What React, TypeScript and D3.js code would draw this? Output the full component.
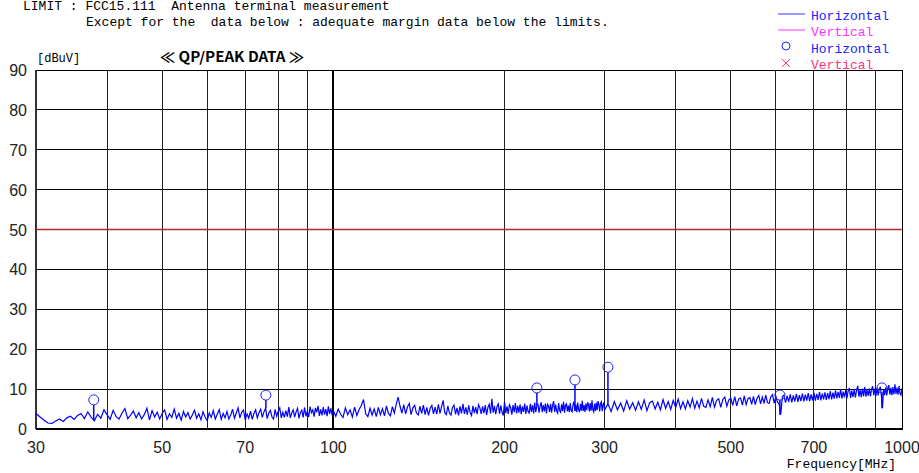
import React from 'react'
import * as d3 from 'd3'

// sweep 1: 30 - 100 MHz, 0.5 MHz step
const traceLow = [
  3.9, 3.0, 2.2, 1.5, 1.4, 2.0, 2.5, 1.9, 2.8, 3.2,
  2.4, 3.4, 3.9, 2.6, 4.3, 3.0, 2.1, 3.7, 2.7, 4.8,
  3.6, 2.4, 4.7, 3.1, 2.5, 4.0, 5.1, 2.6, 3.5, 4.5,
  2.8, 4.1, 2.5, 3.6, 5.2, 2.3, 4.6, 3.0, 4.2, 2.5,
  3.9, 4.8, 2.4, 3.8, 2.9, 5.0, 2.7, 3.9, 2.2, 4.4,
  3.0, 4.1, 2.5, 3.5, 4.7, 2.7, 3.8, 2.3, 4.3, 3.0,
  2.1, 4.0, 2.9, 4.6, 2.5, 3.7, 4.9, 2.4, 3.9, 2.8,
  4.4, 2.5, 3.5, 5.0, 2.7, 4.0, 5.3, 2.8, 4.2, 4.8,
  2.3, 3.8, 2.7, 4.5, 2.4, 3.9, 4.8, 2.8, 4.1, 5.0,
  2.9, 4.3, 5.2, 2.6, 4.0, 4.7, 3.0, 2.5, 4.9, 3.2,
  4.4, 5.3, 2.8, 4.2, 2.9, 4.6, 3.1, 5.5, 2.8, 4.0,
  4.8, 3.0, 4.3, 5.2, 2.7, 4.1, 4.7, 2.9, 5.4, 3.2,
  4.5, 3.0, 5.6, 4.1, 4.8, 3.1, 5.3, 4.2, 5.8, 3.3,
  4.9, 3.4, 5.5, 3.6, 5.0, 3.2, 5.7, 3.8, 5.2, 3.5,
  4.6,
]

// sweep 2: 101 - 300 MHz, 1 MHz step
const traceMid = [
  3.2, 5.0, 3.7, 2.9, 5.3, 3.6, 4.8, 3.0, 5.5, 3.4,
  4.9, 5.9, 7.4, 3.8, 3.1, 5.2, 3.5, 5.0, 3.1, 5.4,
  3.6, 5.1, 3.3, 5.8, 3.9, 3.3, 5.6, 4.0, 6.2, 8.0,
  5.7, 4.0, 6.1, 3.8, 5.5, 6.4, 3.6, 5.3, 5.9, 4.0,
  3.5, 5.7, 3.9, 6.0, 3.6, 5.4, 3.4, 5.2, 5.9, 3.8,
  5.5, 3.7, 6.2, 3.9, 5.6, 7.2, 4.1, 3.6, 5.8, 4.0,
  3.5, 5.4, 6.0, 3.7, 5.3, 3.4, 5.7, 3.9, 6.3, 3.8,
  5.4, 3.6, 5.9, 4.1, 3.4, 5.8, 4.0, 5.5, 3.7, 6.1,
  5.3, 3.8, 5.7, 4.0, 6.0, 3.5, 5.4, 6.2, 3.9, 7.6,
  4.1, 5.8, 3.7, 5.6, 6.3, 3.8, 5.9, 4.2, 3.4, 6.8,
  4.0, 5.7, 3.8, 6.1, 5.4, 3.6, 6.0, 4.2, 6.5, 3.9,
  5.8, 4.1, 6.2, 3.7, 5.7, 4.3, 6.4, 3.8, 5.9, 4.4,
  4.0, 6.3, 4.3, 6.0, 3.9, 6.6, 4.2, 5.9, 6.2, 4.1,
  5.7, 6.7, 4.2, 6.0, 4.4, 6.4, 3.9, 6.2, 5.8, 4.3,
  6.3, 4.1, 5.9, 7.0, 4.3, 6.1, 4.5, 4.0, 6.5, 4.6,
  4.2, 6.2, 4.5, 6.8, 4.1, 6.0, 6.3, 4.4, 5.9, 4.2,
  6.5, 4.6, 4.3, 6.2, 6.9, 4.5, 6.1, 4.2, 6.6, 4.7,
  4.4, 6.3, 4.6, 7.1, 4.5, 6.0, 4.3, 6.4, 4.7, 6.7,
  6.1, 4.4, 6.5, 4.6, 7.2, 4.8, 4.3, 6.3, 4.5, 6.6,
  4.7, 7.0, 6.2, 4.4, 6.4, 6.8, 4.5, 6.1, 6.5, 4.8,
]

// sweep 3: 304 - 1000 MHz, 4 MHz step
const traceHigh = [
  6.3, 4.4, 6.9, 4.8, 6.5, 4.5, 7.1, 5.0, 6.6, 4.7,
  6.8, 4.9, 7.3, 4.6, 6.6, 7.0, 5.0, 6.7, 4.8, 7.4,
  5.2, 6.9, 4.9, 7.2, 5.4, 7.5, 5.1, 6.8, 5.0, 7.1,
  5.5, 7.6, 5.2, 7.0, 5.3, 7.7, 5.7, 5.4, 7.3, 5.6,
  7.9, 5.5, 7.2, 7.6, 5.4, 7.4, 8.0, 5.7, 7.3, 7.7,
  5.9, 8.1, 5.8, 7.5, 7.8, 6.0, 8.3, 6.1, 7.6, 7.9,
  6.2, 8.2, 6.1, 7.7, 8.4, 6.3, 8.0, 6.4, 8.5, 6.6,
  6.4, 8.1, 8.6, 6.5, 8.2, 6.7, 6.3, 3.6, 8.1, 8.5,
  6.6, 8.3, 6.8, 8.7, 6.7, 8.4, 6.9, 8.8, 6.8, 8.5,
  7.0, 8.9, 6.9, 8.6, 7.1, 9.0, 7.0, 8.7, 7.2, 9.1,
  7.1, 8.8, 7.3, 9.3, 7.2, 8.9, 7.4, 9.2, 7.3, 9.0,
  7.5, 9.5, 7.4, 9.1, 7.6, 9.7, 7.7, 9.3, 7.8, 10.0,
  7.6, 9.4, 7.9, 9.8, 7.7, 9.5, 10.3, 7.8, 9.6, 8.0,
  9.9, 7.9, 9.7, 10.8, 8.1, 9.8, 8.0, 10.1, 8.2, 10.5,
  8.1, 9.9, 8.3, 10.2, 8.2, 10.0, 10.7, 8.4, 10.1, 8.3,
  10.3, 8.4, 9.9, 10.6, 8.3, 5.2, 10.0, 8.5, 10.4, 8.4,
  10.2, 11.0, 8.6, 10.3, 8.5, 10.5, 8.7, 11.2, 8.8, 10.4,
  8.6, 10.8, 8.9, 8.5, 10.2,
]

const sweeps = [
  { start: 30, step: 0.5, levels: traceLow },
  { start: 101, step: 1, levels: traceMid },
  { start: 304, step: 4, levels: traceHigh },
]

// QP markers (Horizontal)
const markerFreqs = [37.9, 76.1, 228, 266, 304, 610, 922]
const markerLevels = [7.3, 8.5, 10.3, 12.3, 15.5, 8.5, 10.3]

const limitLevel = 50
const yTicks = [0, 10, 20, 30, 40, 50, 60, 70, 80, 90]
const xGrid = [40, 50, 60, 70, 80, 90, 100, 200, 300, 400, 500, 600, 700, 800, 900]
const xLabels = [30, 50, 70, 100, 200, 300, 500, 700, 1000]

const W = 919
const H = 473
const plot = { left: 36, right: 902, top: 70, bottom: 429 }

const mono = '"Liberation Mono", "DejaVu Sans Mono", monospace'
const sans = '"Liberation Sans", Arial, sans-serif'

export default function App() {
  const x = d3.scaleLog().domain([30, 1000]).range([plot.left, plot.right])
  const y = d3.scaleLinear().domain([0, 90]).range([plot.bottom, plot.top])

  const points: [number, number][] = []
  sweeps.forEach(s => {
    s.levels.forEach((v, i) => points.push([s.start + i * s.step, v]))
  })

  const line = d3
    .line<[number, number]>()
    .x(d => x(d[0]))
    .y(d => y(d[1]))

  const bisect = d3.bisector((d: [number, number]) => d[0]).center
  const r = 5

  return (
    <svg
      width={W}
      height={H}
      style={{ position: 'absolute', left: 0, top: 0, background: '#fff' }}
    >
      {/* header */}
      <text x={23} y={10} fontFamily={mono} fontSize={13} fill="#000" xmlSpace="preserve">
        {'LIMIT : FCC15.111  Antenna terminal measurement'}
      </text>
      <text x={86} y={26} fontFamily={mono} fontSize={13} fill="#000" xmlSpace="preserve">
        {'Except for the  data below : adequate margin data below the limits.'}
      </text>
      <text x={37} y={62} fontFamily={mono} fontSize={12} fill="#000">
        [dBuV]
      </text>
      <text
        x={160}
        y={62}
        fontFamily={'"Noto Sans CJK JP", "DejaVu Sans", sans-serif'}
        fontWeight="bold"
        fontSize={14}
        textLength={144}
        lengthAdjust="spacingAndGlyphs"
        fill="#000"
      >
        {'≪ QP/PEAK DATA ≫'}
      </text>

      {/* legend */}
      <g fontFamily={mono} fontSize={13}>
        <line x1={778} x2={805} y1={14} y2={14} stroke="#3333ff" strokeWidth={1} />
        <text x={811} y={20} fill="#2222ff">Horizontal</text>
        <line x1={778} x2={805} y1={30} y2={30} stroke="#ff33ff" strokeWidth={1} />
        <text x={811} y={36} fill="#ff33ff">Vertical</text>
        <circle cx={786} cy={46} r={4} fill="none" stroke="#2222ff" strokeWidth={1} />
        <text x={811} y={53} fill="#2222ff">Horizontal</text>
        <path d="M782,59 L790,67 M790,59 L782,67" stroke="#ff3377" strokeWidth={1} />
        <text x={811} y={69} fill="#ff3377">Vertical</text>
      </g>

      {/* grid */}
      <rect
        x={plot.left}
        y={plot.top}
        width={plot.right - plot.left}
        height={plot.bottom - plot.top}
        fill="#fff"
      />
      <g shapeRendering="crispEdges">
        {yTicks.slice(1, -1).map(t => (
          <line key={'h' + t} x1={plot.left} x2={plot.right} y1={y(t)} y2={y(t)} stroke="#000" />
        ))}
        {xGrid.map(f => (
          <line
            key={'v' + f}
            x1={x(f)}
            x2={x(f)}
            y1={plot.top}
            y2={plot.bottom}
            stroke={f === 100 ? '#000' : '#222'}
            strokeWidth={f === 100 ? 2 : 1}
          />
        ))}
        <rect
          x={plot.left}
          y={plot.top}
          width={plot.right - plot.left}
          height={plot.bottom - plot.top}
          fill="none"
          stroke="#000"
        />
        <line x1={plot.left} x2={plot.left} y1={plot.top} y2={plot.bottom} stroke="#333" strokeWidth={2} />
        <line x1={plot.left} x2={plot.right} y1={plot.bottom} y2={plot.bottom} stroke="#000" strokeWidth={2} />
      </g>

      {/* limit */}
      <line
        x1={plot.left}
        x2={plot.right}
        y1={y(limitLevel)}
        y2={y(limitLevel)}
        stroke="#b8282c"
        strokeWidth={1.5}
      />

      {/* trace */}
      <path d={line(points) || ''} fill="none" stroke="#0000ff" strokeWidth={1.2} />

      {/* markers */}
      {markerFreqs.map((f, i) => {
        const base = points[bisect(points, f)][1]
        const cy = y(markerLevels[i])
        return (
          <g key={'m' + i}>
            <line
              x1={x(f)}
              x2={x(f)}
              y1={cy + r}
              y2={Math.max(y(base), cy + r)}
              stroke="#0000ff"
              strokeWidth={1.5}
            />
            <circle cx={x(f)} cy={cy} r={r} fill="none" stroke="#2222ff" strokeWidth={1} />
          </g>
        )
      })}

      {/* axis labels */}
      <g fontFamily={sans} fontSize={16} fill="#222">
        {yTicks.map(t => (
          <text key={'yl' + t} x={27} y={y(t) + 6} textAnchor="end">
            {t}
          </text>
        ))}
        {xLabels.map(f => (
          <text key={'xl' + f} x={x(f)} y={453} textAnchor="middle">
            {f}
          </text>
        ))}
      </g>
      <text x={896} y={468} fontFamily={mono} fontSize={13} textAnchor="end" fill="#000">
        Frequency[MHz]
      </text>
    </svg>
  )
}
